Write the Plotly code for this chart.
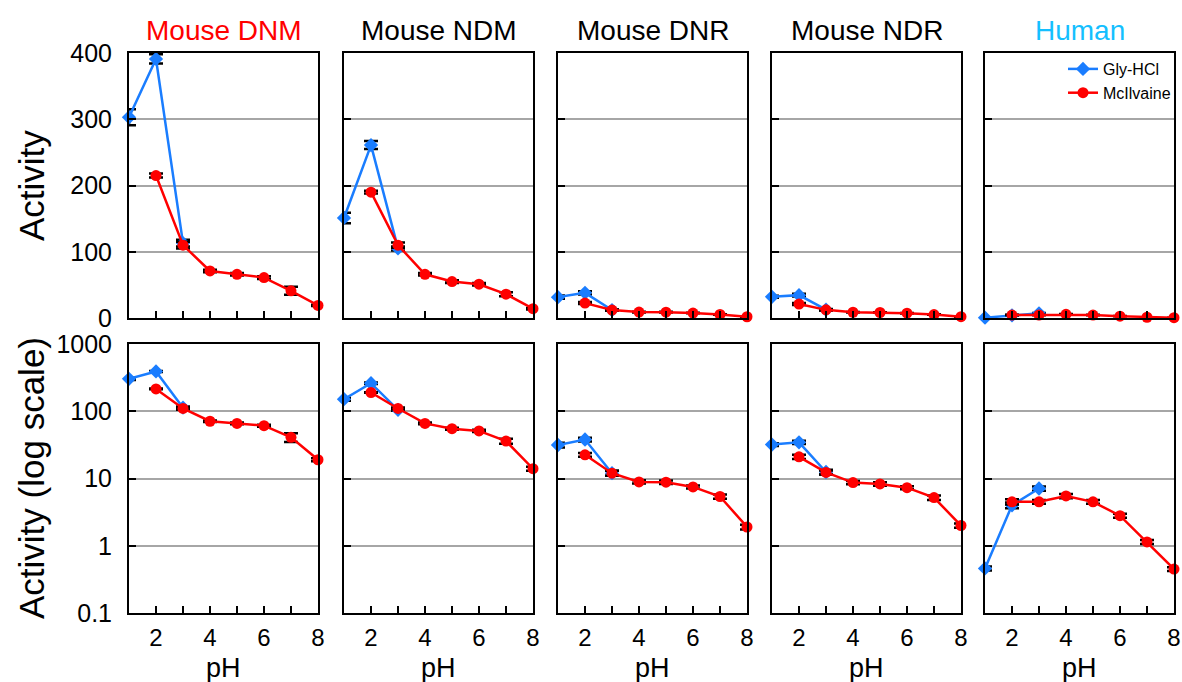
import plotly.graph_objects as go

# pH values
ph_gly = [1, 2, 3]
ph_mcil = [2, 3, 4, 5, 6, 7, 8]

panels = ["Mouse DNM", "Mouse NDM", "Mouse DNR", "Mouse NDR", "Human"]
title_colors = ["#ff0000", "#000000", "#000000", "#000000", "#14bfff"]

# Gly-HCl buffer activity (pH 1-3) and error
gly_dnm = [303, 391, 113]
gly_dnm_err = [12, 7, 5]
gly_ndm = [151, 261, 105]
gly_ndm_err = [8, 6, 3]
gly_dnr = [31.5, 38, 12]
gly_dnr_err = [2.5, 2.5, 1]
gly_ndr = [32, 34.5, 12.5]
gly_ndr_err = [1.5, 2, 1]
gly_hum = [0.46, 4.0, 7.1]
gly_hum_err = [0.03, 0.4, 0.5]

# McIlvaine buffer activity (pH 2-8) and error
mcil_dnm = [215, 110, 71, 66, 61, 41, 19]
mcil_dnm_err = [3, 5, 2, 2, 2, 6, 1]
mcil_ndm = [190, 110, 66, 55, 51, 36, 14]
mcil_ndm_err = [2, 4, 2, 2, 2, 3, 1]
mcil_dnr = [22.5, 12, 8.9, 8.8, 7.5, 5.4, 1.9]
mcil_dnr_err = [1.5, 1, 0.5, 0.5, 0.4, 0.4, 0.15]
mcil_ndr = [21, 12.3, 8.7, 8.3, 7.3, 5.2, 2.0]
mcil_ndr_err = [1.5, 0.8, 0.5, 0.5, 0.4, 0.4, 0.15]
mcil_hum = [4.5, 4.5, 5.5, 4.5, 2.8, 1.14, 0.45]
mcil_hum_err = [0.4, 0.3, 0.4, 0.3, 0.2, 0.08, 0.03]

gly_all = [gly_dnm, gly_ndm, gly_dnr, gly_ndr, gly_hum]
gly_err_all = [gly_dnm_err, gly_ndm_err, gly_dnr_err, gly_ndr_err, gly_hum_err]
mcil_all = [mcil_dnm, mcil_ndm, mcil_dnr, mcil_ndr, mcil_hum]
mcil_err_all = [mcil_dnm_err, mcil_ndm_err, mcil_dnr_err, mcil_ndr_err, mcil_hum_err]

top_ticks = [0, 100, 200, 300, 400]
log_ticks = [0.1, 1, 10, 100, 1000]
log_ticktext = ["0.1", "1", "10", "100", "1000"]
x_ticks = [1, 2, 3, 4, 5, 6, 7, 8]
x_ticktext = ["", "2", "", "4", "", "6", "", "8"]

W, H = 1182, 682
BLUE = "#1a7dff"
RED = "#ff0000"
FONT = "Liberation Sans"

# pixel geometry of the panel grid
col_left = [129, 344, 558, 772, 985]
col_w = 189
row_top = [(53, 318), (344, 613)]

fig = go.Figure()


def xd(px):
    return px / W


def yd(py):
    return 1 - py / H


for row in range(2):
    for col in range(5):
        idx = row * 5 + col + 1
        xa = "x" if idx == 1 else f"x{idx}"
        ya = "y" if idx == 1 else f"y{idx}"
        show_leg = (row == 0 and col == 0)
        fig.add_trace(go.Scatter(
            x=ph_gly, y=gly_all[col], xaxis=xa, yaxis=ya,
            mode="lines+markers", name="Gly-HCl", legendgroup="g",
            showlegend=show_leg, cliponaxis=False,
            line=dict(color=BLUE, width=2.5),
            marker=dict(symbol="diamond", size=11, color=BLUE),
            error_y=dict(type="data", array=gly_err_all[col], color="black",
                         thickness=2.5, width=7),
        ))
        fig.add_trace(go.Scatter(
            x=ph_mcil, y=mcil_all[col], xaxis=xa, yaxis=ya,
            mode="lines+markers", name="McIlvaine", legendgroup="m",
            showlegend=show_leg, cliponaxis=False,
            line=dict(color=RED, width=2.5),
            marker=dict(symbol="circle", size=11, color=RED),
            error_y=dict(type="data", array=mcil_err_all[col], color="black",
                         thickness=2.5, width=7),
        ))

        top, bot = row_top[row]
        xkey = "xaxis" if idx == 1 else f"xaxis{idx}"
        ykey = "yaxis" if idx == 1 else f"yaxis{idx}"
        x0 = col_left[col]
        fig.layout[xkey] = dict(
            domain=[xd(x0), xd(x0 + col_w)], anchor=ya, range=[1, 8],
            tickvals=x_ticks, ticktext=x_ticktext if row == 1 else [""] * 8,
            ticks="inside", ticklen=7, tickwidth=2, tickcolor="black",
            showline=True, linecolor="black", linewidth=2, mirror=True,
            showgrid=False, zeroline=False, automargin=False,
            ticklabelstandoff=2,
            tickfont=dict(size=24, color="black", family=FONT),
        )
        ycfg = dict(
            domain=[yd(bot), yd(top)], anchor=xa,
            ticks="inside", ticklen=7, tickwidth=2, tickcolor="black",
            showline=True, linecolor="black", linewidth=2, mirror=True,
            showgrid=True, gridcolor="#a6a6a6", gridwidth=1.5, zeroline=False,
            showticklabels=(col == 0), automargin=False,
            ticklabelstandoff=10,
            tickfont=dict(size=25, color="black", family=FONT),
        )
        if row == 0:
            ycfg.update(range=[0, 400], tickvals=top_ticks)
        else:
            ycfg.update(type="log", range=[-1, 3], tickvals=log_ticks,
                        ticktext=log_ticktext)
        fig.layout[ykey] = ycfg

annotations = []
for col in range(5):
    cx = xd(col_left[col] + col_w / 2)
    annotations.append(dict(
        text=panels[col], x=cx, y=yd(31), xref="paper", yref="paper",
        showarrow=False, font=dict(size=28, color=title_colors[col], family=FONT),
        xanchor="center", yanchor="middle",
    ))
    annotations.append(dict(
        text="pH", x=cx, y=yd(668), xref="paper", yref="paper",
        showarrow=False, font=dict(size=27, color="black", family=FONT),
        xanchor="center", yanchor="middle",
    ))

annotations.append(dict(
    text="Activity", x=xd(31), y=yd(186), xref="paper", yref="paper",
    showarrow=False, textangle=-90, font=dict(size=35, color="black", family=FONT),
    xanchor="center", yanchor="middle",
))
annotations.append(dict(
    text="Activity (log scale)", x=xd(31), y=yd(478), xref="paper", yref="paper",
    showarrow=False, textangle=-90, font=dict(size=35, color="black", family=FONT),
    xanchor="center", yanchor="middle",
))

fig.update_layout(
    width=W, height=H,
    margin=dict(l=0, r=0, t=0, b=0, autoexpand=False),
    paper_bgcolor="white", plot_bgcolor="white",
    annotations=annotations,
    legend=dict(
        x=xd(1176), y=yd(52), xanchor="right", yanchor="top",
        bgcolor="rgba(0,0,0,0)", font=dict(size=16, color="black", family=FONT),
        itemwidth=30, tracegroupgap=0,
    ),
    showlegend=True,
)

fig.write_html("out.html")
